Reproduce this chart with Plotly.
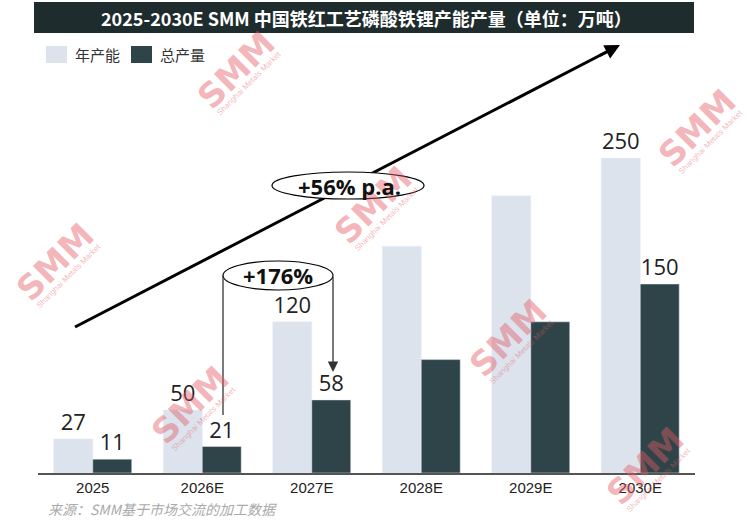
import plotly.graph_objects as go

# ---------------- data ----------------
years = ["2025", "2026E", "2027E", "2028E", "2029E", "2030E"]
capacity = [27, 50, 120, 180, 220, 250]          # 年产能
output = [11, 21, 58, 90, 120, 150]              # 总产量
capacity_labels = ["27", "50", "120", "", "", "250"]
output_labels = ["11", "21", "58", "", "", "150"]

series_names = ["年产能", "总产量"]
title_text = "2025-2030E SMM 中国铁红工艺磷酸铁锂产能产量（单位：万吨）"
source_text = "来源：SMM基于市场交流的加工数据"
cagr_text = "+56% p.a."
growth_text = "+176%"

# ---------------- layout constants ----------------
W, H = 748, 523
ML, MR, MT, MB = 38, 53, 80, 50
PW, PH = W - ML - MR, H - MT - MB
PX_PER_UNIT = 1.26
YMAX = PH / PX_PER_UNIT

LIGHT = "#dce3ed"
DARK = "#2e4448"
TITLE_BG = "#1f2c2e"


def px(x):
    return (x - ML) / PW


def py(y):
    return (H - MB - y) / PH


fig = go.Figure()
fig.add_trace(go.Bar(
    x=years, y=capacity, name=series_names[0], marker_color=LIGHT,
    text=capacity_labels, textposition="outside", cliponaxis=False,
    constraintext="none",
    textfont=dict(family="Open Sans", size=22, color="#222222"),
))
fig.add_trace(go.Bar(
    x=years, y=output, name=series_names[1], marker_color=DARK,
    text=output_labels, textposition="outside", cliponaxis=False,
    constraintext="none",
    textfont=dict(family="Open Sans", size=22, color="#222222"),
))

shapes = []
annotations = []

# watermarks
WM = "rgba(228,90,100,0.45)"
for (cx, cy) in [(55, 262), (236, 70), (373, 205), (190, 405),
                 (508, 338), (697, 128), (645, 466)]:
    annotations.append(dict(xref="paper", yref="paper", x=px(cx), y=py(cy),
                            text="<b>SMM</b>", showarrow=False, textangle=-45,
                            xanchor="center", yanchor="middle",
                            font=dict(family="DejaVu Sans", size=34, color=WM)))
    annotations.append(dict(xref="paper", yref="paper", x=px(cx + 13), y=py(cy + 14),
                            text="Shanghai Metals Market", showarrow=False, textangle=-45,
                            xanchor="center", yanchor="middle",
                            font=dict(family="Liberation Sans", size=8, color=WM)))

# title bar
shapes.append(dict(type="rect", xref="paper", yref="paper",
                   x0=px(34), x1=px(694), y0=py(33), y1=py(2),
                   fillcolor=TITLE_BG, line=dict(width=0), layer="above"))
annotations.append(dict(xref="paper", yref="paper", x=px(366), y=py(17.5),
                        text="<b>" + title_text + "</b>", showarrow=False,
                        font=dict(family="Noto Sans CJK SC", size=18, color="white"),
                        xanchor="center", yanchor="middle"))

# legend (manual)
for (x0, x1, col, tx, name) in [(46, 67, LIGHT, 73, series_names[0]),
                                 (131, 152, DARK, 158, series_names[1])]:
    shapes.append(dict(type="rect", xref="paper", yref="paper",
                       x0=px(x0), x1=px(x1), y0=py(63), y1=py(46),
                       fillcolor=col, line=dict(width=0), layer="above"))
    annotations.append(dict(xref="paper", yref="paper", x=px(tx), y=py(55),
                            text=name, showarrow=False, xanchor="left", yanchor="middle",
                            font=dict(family="Noto Sans CJK SC", size=15, color="#333333")))

# big trend arrow line (under ellipse)
tail = (75, 327)
tip = (620, 45)
dx, dy = tip[0] - tail[0], tip[1] - tail[1]
L = (dx ** 2 + dy ** 2) ** 0.5
ux, uy = dx / L, dy / L
shapes.append(dict(type="line", xref="paper", yref="paper",
                   x0=px(tail[0]), y0=py(tail[1]),
                   x1=px(tip[0] - 6 * ux), y1=py(tip[1] - 6 * uy),
                   line=dict(color="black", width=3), layer="above"))
annotations.append(dict(xref="paper", yref="paper", axref="pixel", ayref="pixel",
                        x=px(tip[0]), y=py(tip[1]),
                        ax=-25 * ux, ay=-25 * uy,
                        text="", showarrow=True, arrowhead=2, arrowsize=1,
                        arrowwidth=3, arrowcolor="black", standoff=0, startstandoff=0))

# ellipse +56% p.a.
shapes.append(dict(type="circle", xref="paper", yref="paper",
                   x0=px(272), x1=px(424), y0=py(199), y1=py(172),
                   fillcolor="white", line=dict(color="black", width=1.2), layer="above"))
annotations.append(dict(xref="paper", yref="paper", x=px(349), y=py(185.5),
                        text="<b>" + cagr_text + "</b>", showarrow=False,
                        font=dict(family="Open Sans", size=22, color="#111111"),
                        xanchor="center", yanchor="middle"))

# ellipse +176% with bracket
shapes.append(dict(type="circle", xref="paper", yref="paper",
                   x0=px(223), x1=px(333), y0=py(290), y1=py(261),
                   fillcolor="white", line=dict(color="black", width=1.2), layer="above"))
annotations.append(dict(xref="paper", yref="paper", x=px(278), y=py(275),
                        text="<b>" + growth_text + "</b>", showarrow=False,
                        font=dict(family="Open Sans", size=22, color="#111111"),
                        xanchor="center", yanchor="middle"))
shapes.append(dict(type="line", xref="paper", yref="paper",
                   x0=px(223), x1=px(223), y0=py(275.5), y1=py(415),
                   line=dict(color="#333333", width=1.3), layer="above"))
annotations.append(dict(xref="paper", yref="paper", axref="pixel", ayref="pixel",
                        x=px(333), y=py(372), ax=0, ay=275.5 - 372,
                        text="", showarrow=True, arrowhead=2, arrowsize=1.6,
                        arrowwidth=1.3, arrowcolor="#333333", standoff=0, startstandoff=0))

# source
annotations.append(dict(xref="paper", yref="paper", x=px(46), y=py(509),
                        text=source_text, showarrow=False, xanchor="left", yanchor="middle",
                        font=dict(family="Noto Sans CJK SC", size=14, color="#aaaaaa",
                                  style="italic")))

fig.update_layout(
    width=W, height=H,
    margin=dict(l=ML, r=MR, t=MT, b=MB, pad=0),
    paper_bgcolor="white", plot_bgcolor="white",
    barmode="group", bargap=0.288, bargroupgap=0,
    showlegend=False,
    shapes=shapes, annotations=annotations,
    xaxis=dict(type="category", showline=True, linecolor="#555555", linewidth=1.5,
               ticks="", showgrid=False, zeroline=False,
               tickfont=dict(family="Liberation Sans", size=15, color="#222222")),
    yaxis=dict(visible=False, range=[0, YMAX], showgrid=False, zeroline=False),
)

fig.write_html("out.html", config={"displayModeBar": False},
               post_script="document.body.style.margin='0';")
